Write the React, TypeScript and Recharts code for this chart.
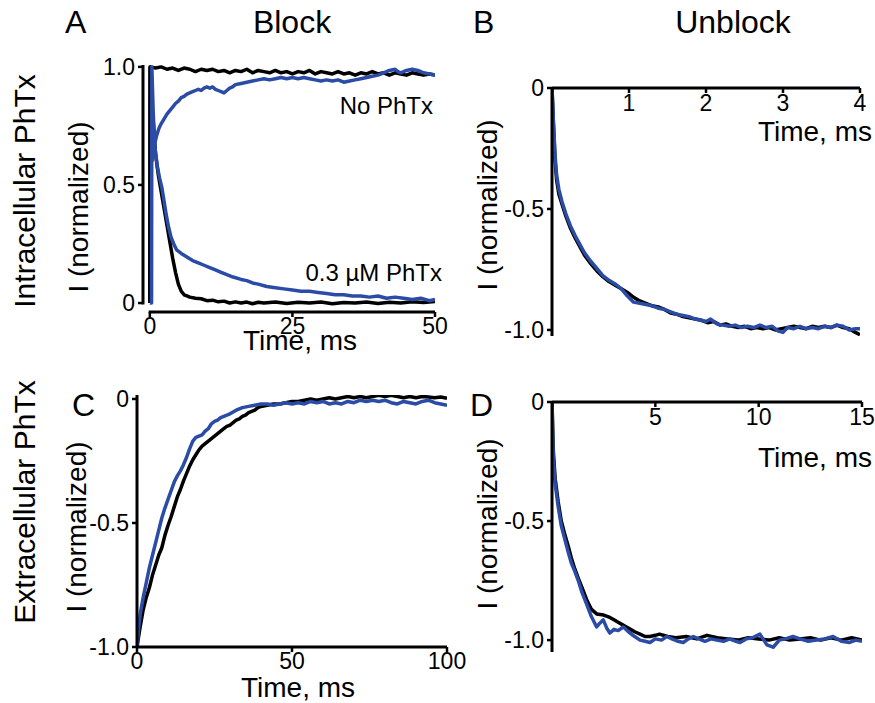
import { Line, LineChart, ReferenceLine, XAxis, YAxis } from "recharts";

type Pt = [number, number];

// Panel A: block with intracellular PhTx (time in ms, current normalized)
const A_BLACK_NO_PHTX: Pt[] = [
  [0, 0], [0.05, 1.0], [1, 0.995], [2, 1.0], [3, 0.99], [4, 0.995], [5, 0.985], [6, 0.995],
  [7, 0.99], [8, 0.98], [9, 0.99], [10, 0.985], [11, 0.99], [12, 0.98], [13, 0.985], [14, 0.975],
  [15, 0.985], [16, 0.98], [17, 0.99], [18, 0.975], [19, 0.985], [20, 0.98], [21, 0.975], [22, 0.985],
  [23, 0.975], [24, 0.98], [25, 0.97], [26, 0.98], [27, 0.975], [28, 0.985], [29, 0.97], [30, 0.98],
  [31, 0.975], [32, 0.97], [33, 0.98], [34, 0.97], [35, 0.975], [36, 0.965], [37, 0.975], [38, 0.97],
  [39, 0.98], [40, 0.97], [41, 0.975], [42, 0.965], [43, 0.975], [44, 0.97], [45, 0.965], [46, 0.975],
  [47, 0.97], [48, 0.965], [49, 0.97], [50, 0.965],
];
const A_BLUE_NO_PHTX: Pt[] = [
  [0.4, 0.6], [0.8, 0.67], [1.2, 0.71], [1.6, 0.74], [2, 0.76], [2.5, 0.78], [3, 0.8], [3.5, 0.815],
  [4, 0.83], [4.5, 0.845], [5, 0.855], [5.5, 0.87], [6, 0.875], [6.5, 0.885], [7, 0.89], [7.5, 0.895],
  [8, 0.9], [8.5, 0.905], [9, 0.9], [9.5, 0.91], [10, 0.915], [10.5, 0.91], [11, 0.915], [11.5, 0.905],
  [12, 0.9], [12.5, 0.895], [13, 0.89], [13.5, 0.9], [14, 0.91], [14.5, 0.915], [15, 0.925], [16, 0.93],
  [17, 0.935], [18, 0.94], [19, 0.945], [20, 0.95], [21, 0.945], [22, 0.95], [23, 0.955], [24, 0.95],
  [25, 0.955], [26, 0.95], [27, 0.955], [28, 0.95], [29, 0.945], [30, 0.94], [31, 0.945], [32, 0.94],
  [33, 0.945], [34, 0.935], [35, 0.94], [36, 0.945], [37, 0.95], [38, 0.955], [39, 0.96], [40, 0.965],
  [41, 0.975], [42, 0.985], [43, 0.99], [43.5, 0.98], [44, 0.975], [45, 0.985], [46, 0.99], [47, 0.985],
  [48, 0.975], [49, 0.97], [50, 0.965],
];
const A_BLACK_PHTX: Pt[] = [
  [0, 0], [0.05, 1.0], [0.5, 0.8], [1, 0.63], [1.5, 0.54], [2, 0.47], [2.5, 0.4], [3, 0.33],
  [3.5, 0.26], [4, 0.19], [4.5, 0.13], [5, 0.08], [5.5, 0.05], [6, 0.035], [6.5, 0.03], [7, 0.025],
  [8, 0.02], [9, 0.018], [10, 0.01], [11, 0.012], [12, 0.005], [13, 0.008], [14, 0.0], [15, 0.005],
  [16, 0.0], [17, 0.004], [18, -0.003], [19, 0.003], [20, 0.0], [22, 0.004], [24, -0.002], [26, 0.003],
  [28, 0.0], [30, 0.004], [32, -0.003], [34, 0.002], [36, 0.0], [38, 0.004], [40, -0.002], [42, 0.003],
  [44, 0.0], [46, 0.005], [48, 0.002], [50, 0.006],
];
const A_BLUE_PHTX: Pt[] = [
  [0, 0], [0.3, 0], [0.35, 1.0], [0.6, 0.8], [0.9, 0.66], [1.3, 0.58], [1.7, 0.53], [2.1, 0.49],
  [2.5, 0.43], [2.9, 0.37], [3.3, 0.32], [3.7, 0.28], [4.2, 0.25], [4.7, 0.225], [5.5, 0.21],
  [6.5, 0.195], [7.5, 0.18], [8.5, 0.17], [9.5, 0.16], [10.5, 0.15], [11.5, 0.14], [12.5, 0.13],
  [13.5, 0.12], [14.6, 0.11], [16, 0.1], [17, 0.095], [18, 0.085], [19, 0.08], [20.5, 0.07],
  [22, 0.065], [23.5, 0.06], [25, 0.055], [26.5, 0.05], [28, 0.05], [29.5, 0.045], [31, 0.04],
  [32.5, 0.035], [34, 0.035], [35.5, 0.03], [37, 0.03], [38.5, 0.025], [40, 0.03], [41.5, 0.02],
  [43, 0.025], [44.5, 0.02], [46, 0.015], [47.5, 0.02], [49, 0.01], [50, 0.015],
];

// Panel B: unblock, intracellular
const B_BLACK: Pt[] = [
  [0, 0], [0.02, -0.16], [0.04, -0.3], [0.06, -0.38], [0.09, -0.44], [0.13, -0.48], [0.18, -0.53],
  [0.24, -0.58], [0.3, -0.62], [0.36, -0.655], [0.42, -0.69], [0.5, -0.725], [0.58, -0.755],
  [0.66, -0.78], [0.74, -0.8], [0.82, -0.815], [0.9, -0.83], [0.98, -0.845], [1.06, -0.865],
  [1.14, -0.88], [1.22, -0.89], [1.3, -0.9], [1.38, -0.905], [1.46, -0.915], [1.54, -0.93],
  [1.62, -0.935], [1.7, -0.945], [1.78, -0.95], [1.86, -0.955], [1.94, -0.96], [2.02, -0.97],
  [2.1, -0.965], [2.18, -0.98], [2.26, -0.975], [2.34, -0.985], [2.42, -0.99], [2.5, -0.985],
  [2.58, -0.995], [2.66, -0.99], [2.74, -0.995], [2.82, -0.99], [2.9, -1.0], [2.98, -0.995],
  [3.06, -0.99], [3.14, -0.985], [3.22, -0.99], [3.3, -0.995], [3.38, -0.985], [3.46, -0.99],
  [3.54, -0.985], [3.62, -0.99], [3.7, -0.98], [3.78, -0.99], [3.86, -0.995], [3.94, -1.01], [4.0, -1.02],
];
const B_BLUE: Pt[] = [
  [0, 0], [0.02, -0.15], [0.04, -0.28], [0.06, -0.36], [0.09, -0.42], [0.13, -0.47], [0.18, -0.52],
  [0.24, -0.57], [0.3, -0.61], [0.36, -0.645], [0.42, -0.68], [0.5, -0.715], [0.58, -0.745],
  [0.66, -0.775], [0.74, -0.795], [0.82, -0.81], [0.9, -0.83], [0.98, -0.86], [1.06, -0.885],
  [1.14, -0.89], [1.22, -0.895], [1.3, -0.9], [1.38, -0.91], [1.46, -0.915], [1.54, -0.925],
  [1.62, -0.935], [1.7, -0.94], [1.78, -0.945], [1.86, -0.955], [1.94, -0.96], [2.0, -0.965],
  [2.06, -0.955], [2.14, -0.975], [2.22, -0.98], [2.3, -0.985], [2.38, -0.98], [2.46, -0.99],
  [2.54, -0.985], [2.62, -0.99], [2.7, -0.98], [2.78, -0.99], [2.86, -0.985], [2.94, -1.005],
  [3.0, -1.01], [3.06, -0.99], [3.14, -0.995], [3.22, -0.985], [3.3, -0.995], [3.38, -0.99],
  [3.46, -0.995], [3.54, -0.985], [3.62, -0.99], [3.7, -0.98], [3.78, -0.985], [3.86, -1.0],
  [3.94, -0.995], [4.0, -0.995],
];

// Panel C: block, extracellular
const C_BLACK: Pt[] = [
  [0, -1], [0.5, -0.96], [1, -0.92], [2, -0.85], [3, -0.8], [4, -0.76], [5, -0.71], [6, -0.67],
  [7, -0.63], [8, -0.6], [9, -0.55], [10, -0.51], [11, -0.475], [12, -0.435], [13, -0.395],
  [14, -0.365], [15, -0.33], [16, -0.3], [17, -0.27], [18, -0.245], [19, -0.225], [20, -0.205],
  [21, -0.19], [22, -0.18], [23, -0.17], [24, -0.16], [25, -0.15], [26, -0.14], [27, -0.13],
  [28, -0.12], [29, -0.11], [30, -0.105], [31, -0.095], [32, -0.085], [33, -0.08], [34, -0.07],
  [35, -0.065], [36, -0.055], [37, -0.05], [38, -0.045], [39, -0.035], [40, -0.03], [42, -0.025],
  [44, -0.02], [46, -0.02], [48, -0.015], [50, -0.01], [52, -0.01], [54, -0.005], [56, 0],
  [58, -0.005], [60, 0], [62, 0.005], [64, 0], [66, 0.005], [68, 0.01], [70, 0.005], [72, 0.01],
  [74, 0.005], [76, 0.01], [78, 0.015], [80, 0.01], [82, 0.015], [84, 0.01], [86, 0.005], [88, 0.01],
  [90, 0.005], [92, 0.01], [94, 0.008], [96, 0.005], [98, 0.008], [100, 0.003],
];
const C_BLUE: Pt[] = [
  [0, -1], [0.5, -0.93], [1, -0.87], [2, -0.8], [3, -0.74], [4, -0.68], [5, -0.63], [6, -0.58],
  [7, -0.53], [8, -0.48], [9, -0.44], [10, -0.405], [11, -0.37], [12, -0.335], [13, -0.31],
  [14, -0.29], [15, -0.265], [16, -0.235], [17, -0.2], [18, -0.17], [19, -0.155], [20, -0.15],
  [21, -0.145], [22, -0.13], [23, -0.12], [24, -0.1], [25, -0.09], [26, -0.085], [27, -0.075],
  [28, -0.07], [30, -0.06], [32, -0.045], [34, -0.035], [36, -0.03], [38, -0.025], [40, -0.02],
  [42, -0.02], [44, -0.025], [46, -0.02], [48, -0.015], [50, -0.02], [52, -0.015], [54, -0.02],
  [56, -0.01], [58, -0.015], [60, -0.01], [62, -0.02], [64, -0.015], [66, -0.02], [68, -0.01],
  [70, -0.015], [72, -0.005], [74, -0.01], [76, -0.005], [78, -0.01], [80, -0.005], [82, -0.015],
  [84, -0.02], [86, -0.01], [88, -0.015], [90, -0.02], [92, -0.01], [94, -0.005], [96, -0.015],
  [98, -0.02], [100, -0.025],
];

// Panel D: unblock, extracellular
const D_BLACK: Pt[] = [
  [0, 0], [0.06, -0.2], [0.15, -0.32], [0.3, -0.42], [0.45, -0.5], [0.63, -0.56], [0.8, -0.61],
  [0.95, -0.66], [1.1, -0.7], [1.27, -0.74], [1.5, -0.79], [1.7, -0.835], [1.9, -0.87], [2.16, -0.89],
  [2.5, -0.895], [2.8, -0.905], [3.0, -0.915], [3.2, -0.925], [3.4, -0.935], [3.6, -0.945],
  [3.8, -0.955], [4.0, -0.965], [4.26, -0.975], [4.5, -0.985], [4.74, -0.985], [5.0, -0.98],
  [5.2, -0.975], [5.6, -0.985], [6.0, -0.99], [6.5, -0.985], [7.0, -0.995], [7.5, -0.98], [8.0, -0.99],
  [8.5, -0.995], [9.0, -1.0], [9.5, -0.99], [10.0, -0.995], [10.5, -1.0], [11.0, -0.99], [11.5, -1.0],
  [12.0, -0.995], [12.5, -0.99], [13.0, -1.0], [13.5, -0.99], [14.0, -1.0], [14.5, -0.99], [15, -1.0],
];
const D_BLUE: Pt[] = [
  [0, 0], [0.06, -0.23], [0.15, -0.34], [0.3, -0.44], [0.45, -0.52], [0.63, -0.58], [0.8, -0.635],
  [0.95, -0.68], [1.1, -0.71], [1.27, -0.75], [1.45, -0.8], [1.68, -0.85], [1.9, -0.9], [2.16, -0.945],
  [2.3, -0.93], [2.48, -0.915], [2.65, -0.95], [2.8, -0.97], [3.0, -0.955], [3.2, -0.96], [3.45, -0.945],
  [3.7, -0.965], [4.0, -0.985], [4.26, -1.0], [4.5, -1.005], [4.74, -1.01], [5.0, -0.995], [5.3, -1.0],
  [5.55, -0.985], [5.8, -0.995], [6.1, -1.005], [6.35, -1.01], [6.6, -0.995], [6.84, -0.985],
  [7.1, -0.995], [7.4, -1.005], [7.7, -0.995], [7.97, -1.0], [8.3, -1.005], [8.6, -0.995], [8.9, -1.005],
  [9.1, -1.01], [9.4, -0.995], [9.7, -0.99], [10.06, -0.975], [10.4, -1.02], [10.7, -1.03], [11.0, -1.0],
  [11.3, -0.995], [11.66, -0.985], [12.0, -0.995], [12.4, -1.005], [12.8, -1.0], [13.2, -0.995],
  [13.6, -0.985], [14.0, -1.005], [14.4, -1.01], [14.7, -1.0], [15, -1.005],
];

const A_X_TICKS = [0, 25, 50];
const A_Y_TICKS = [0, 0.5, 1];
const B_X_TICKS = [1, 2, 3, 4];
const C_X_TICKS = [0, 50, 100];
const D_X_TICKS = [5, 10, 15];
const NEG_Y_TICKS = [-1, -0.5, 0];

const BLACK = "#000000";
const BLUE = "#2b4ca6";
const FONT = '"Liberation Sans", Arial, Helvetica, sans-serif';

const Y_W = 70;
const X_H = 36;
const PAD_T = 16;
const PAD_B = 8;
const PAD_L = 4;
const RIGHT = 26;

const yFmt = (v: number) => (v === 0 ? "0" : v.toFixed(1));
const tickFont = { fill: BLACK, fontSize: 23, fontFamily: FONT };
const axisStroke = { stroke: BLACK, strokeWidth: 3 };
const tickStroke = { stroke: BLACK, strokeWidth: 2.5 };

type Box = { x0: number; y0: number; x1: number; y1: number };

type PanelProps = {
  box: Box;
  xDomain: [number, number];
  yDomain: [number, number];
  xTicks: number[];
  yTicks: number[];
  xOnTop?: boolean;
  detachedAxes?: boolean;
  series: { pts: Pt[]; color: string }[];
};

function Panel({ box, xDomain, yDomain, xTicks, yTicks, xOnTop, detachedAxes, series }: PanelProps) {
  const left = box.x0 - Y_W - PAD_L;
  const top = box.y0 - PAD_T;
  const width = box.x1 - box.x0 + Y_W + PAD_L + RIGHT;
  const height = box.y1 - box.y0 + PAD_T + PAD_B + (xOnTop ? 0 : X_H);

  return (
    <div style={{ position: "absolute", left, top }}>
      <LineChart width={width} height={height} margin={{ top: PAD_T, right: RIGHT, bottom: PAD_B, left: PAD_L }}>
        <XAxis
          type="number"
          dataKey="t"
          domain={xDomain}
          ticks={xTicks}
          interval={0}
          allowDataOverflow
          orientation={xOnTop ? "top" : "bottom"}
          mirror={!!xOnTop}
          height={X_H}
          axisLine={detachedAxes ? false : axisStroke}
          tickLine={tickStroke}
          tickSize={5}
          tickMargin={xOnTop ? 2 : 1}
          tick={tickFont}
        />
        <YAxis
          type="number"
          dataKey="v"
          domain={yDomain}
          ticks={yTicks}
          interval={0}
          allowDataOverflow
          width={Y_W}
          axisLine={detachedAxes ? false : axisStroke}
          tickLine={tickStroke}
          tickSize={5}
          tickMargin={3}
          tick={tickFont}
          tickFormatter={yFmt}
        />
        {detachedAxes && (
          <ReferenceLine
            segment={[
              { x: xDomain[0], y: Math.min(...yTicks) - 0.006 },
              { x: xDomain[0], y: yDomain[1] },
            ]}
            stroke={BLACK}
            strokeWidth={3}
            ifOverflow="visible"
          />
        )}
        {detachedAxes && (
          <ReferenceLine
            segment={[
              { x: Math.min(...xTicks) - 0.2, y: yDomain[0] },
              { x: xDomain[1], y: yDomain[0] },
            ]}
            stroke={BLACK}
            strokeWidth={3}
            ifOverflow="visible"
          />
        )}
        {series.map((s, i) => (
          <Line
            key={i}
            data={s.pts.map(([t, v]) => ({ t, v }))}
            dataKey="v"
            type="linear"
            stroke={s.color}
            strokeWidth={3.5}
            strokeLinejoin="round"
            dot={false}
            activeDot={false}
            isAnimationActive={false}
          />
        ))}
      </LineChart>
    </div>
  );
}

function VText({ x, y, size, children }: { x: number; y: number; size: number; children: string }) {
  return (
    <text x={x} y={y} fontSize={size} textAnchor="middle" transform={`rotate(-90 ${x} ${y})`}>
      {children}
    </text>
  );
}

export default function App() {
  return (
    <div style={{ position: "absolute", left: 0, top: 0, width: 875, height: 703, background: "#fff", fontFamily: FONT }}>
      <Panel
        box={{ x0: 143, y0: 65, x1: 435, y1: 312 }}
        xDomain={[-1.2, 50]}
        yDomain={[-0.038, 1.008]}
        xTicks={A_X_TICKS}
        yTicks={A_Y_TICKS}
        detachedAxes
        series={[
          { pts: A_BLACK_NO_PHTX, color: BLACK },
          { pts: A_BLACK_PHTX, color: BLACK },
          { pts: A_BLUE_PHTX, color: BLUE },
          { pts: A_BLUE_NO_PHTX, color: BLUE },
        ]}
      />
      <Panel
        box={{ x0: 552, y0: 88, x1: 860, y1: 336 }}
        xDomain={[0, 4]}
        yDomain={[-1.025, 0]}
        xTicks={B_X_TICKS}
        yTicks={NEG_Y_TICKS}
        xOnTop
        series={[
          { pts: B_BLACK, color: BLACK },
          { pts: B_BLUE, color: BLUE },
        ]}
      />
      <Panel
        box={{ x0: 137, y0: 395, x1: 447, y1: 647 }}
        xDomain={[0, 100]}
        yDomain={[-1, 0.016]}
        xTicks={C_X_TICKS}
        yTicks={NEG_Y_TICKS}
        series={[
          { pts: C_BLACK, color: BLACK },
          { pts: C_BLUE, color: BLUE },
        ]}
      />
      <Panel
        box={{ x0: 552, y0: 402, x1: 862, y1: 652 }}
        xDomain={[0, 15]}
        yDomain={[-1.05, 0]}
        xTicks={D_X_TICKS}
        yTicks={NEG_Y_TICKS}
        xOnTop
        series={[
          { pts: D_BLACK, color: BLACK },
          { pts: D_BLUE, color: BLUE },
        ]}
      />

      <svg
        width={875}
        height={703}
        style={{ position: "absolute", left: 0, top: 0, pointerEvents: "none" }}
        fontFamily={FONT}
        fill={BLACK}
      >
        <text x={65} y={33} fontSize={32}>A</text>
        <text x={292} y={33} fontSize={32} textAnchor="middle">Block</text>
        <text x={473} y={33} fontSize={32}>B</text>
        <text x={733} y={33} fontSize={32} textAnchor="middle">Unblock</text>
        <text x={72} y={416} fontSize={32}>C</text>
        <text x={470} y={416} fontSize={32}>D</text>

        <VText x={35} y={191} size={30}>Intracellular PhTx</VText>
        <VText x={35} y={502} size={30}>Extracellular PhTx</VText>

        <VText x={88} y={207} size={28}>I (normalized)</VText>
        <VText x={497} y={205} size={28}>I (normalized)</VText>
        <VText x={86} y={527} size={28}>I (normalized)</VText>
        <VText x={497} y={524} size={28}>I (normalized)</VText>

        <text x={300} y={350} fontSize={28} textAnchor="middle">Time, ms</text>
        <text x={298} y={697} fontSize={28} textAnchor="middle">Time, ms</text>
        <text x={872} y={141} fontSize={28} textAnchor="end">Time, ms</text>
        <text x={872} y={467} fontSize={28} textAnchor="end">Time, ms</text>

        <text x={433} y={114} fontSize={24} textAnchor="end">No PhTx</text>
        <text x={442} y={281} fontSize={24} textAnchor="end">0.3 µM PhTx</text>
      </svg>
    </div>
  );
}
